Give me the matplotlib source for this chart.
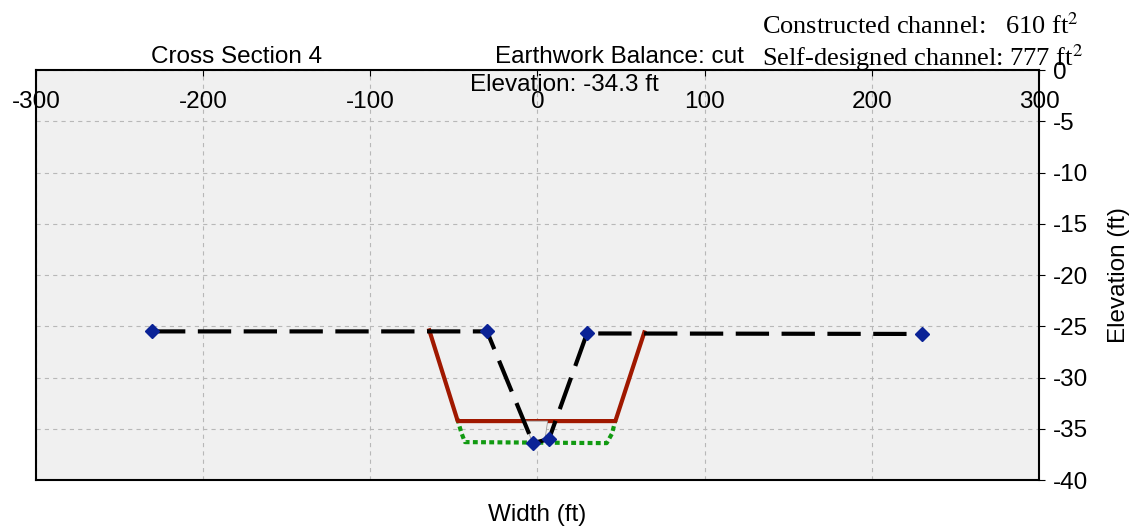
import matplotlib.pyplot as plt
from matplotlib.patches import Polygon

plt.rcParams['font.family'] = ['Liberation Sans', 'DejaVu Sans']
plt.rcParams['mathtext.fontset'] = 'stix'
plt.rcParams['lines.scale_dashes'] = False
plt.rcParams['axes.unicode_minus'] = False

# self-designed channel (black dashed with survey points)
design_x = [-230.6, -30.2, -2.7, 6.9, 29.6, 230.0]
design_y = [-25.5, -25.5, -36.4, -36.0, -25.7, -25.75]

# constructed channel (red)
constr_x = [-64.7, -47.7, 46.6, 63.9]
constr_y = [-25.4, -34.25, -34.25, -25.6]

# existing bed (green dotted)
bed_x = [-48.0, -45.5, -43.4, 41.4, 44.5, 46.6]
bed_y = [-34.0, -35.4, -36.3, -36.4, -35.5, -34.2]

# small uncovered patch near the thalweg
patch_x = [-8.3, 6.1, 4.5, -2.7]
patch_y = [-34.25, -34.25, -36.0, -36.4]

xticks = [-300, -200, -100, 0, 100, 200, 300]
yticks = list(range(0, -45, -5))

fig = plt.figure(figsize=(11.32, 5.32), dpi=100)
ax = fig.add_axes([0.0318, 0.0977, 0.886, 0.7707])
ax.set_facecolor('#f0f0f0')

ax.plot(bed_x, bed_y, color='#119a11', lw=3.0, dashes=(3.5, 2.4),
        dash_capstyle='butt', zorder=3)
ax.plot(constr_x, constr_y, color='#a01800', lw=3.0, zorder=4)
ax.add_patch(Polygon(list(zip(patch_x, patch_y)), closed=True,
                     facecolor='#f0f0f0', edgecolor='#999999', lw=0.6, zorder=4.5))
ax.plot(design_x, design_y, color='black', lw=3.0, dashes=(24, 9),
        dash_capstyle='butt', zorder=5)
ax.plot(design_x, design_y, ls='none', marker='D', ms=7.5,
        color='#0a2296', zorder=6)

ax.set_xlim(-300, 300)
ax.set_ylim(-40, 0)
ax.set_xticks(xticks)
ax.set_yticks(yticks)

ax.xaxis.tick_top()
ax.tick_params(axis='x', direction='in', length=4, pad=-31, labelsize=17.5)
ax.yaxis.tick_right()
ax.yaxis.set_label_position('right')
ax.tick_params(axis='y', direction='out', length=4, pad=6, labelsize=17.5)

ax.grid(True, color='#b8b8b8', ls=(0, (3, 3)), lw=0.8)
for s in ax.spines.values():
    s.set_linewidth(1.5)

ax.set_ylabel('Elevation (ft)', fontsize=17.5, labelpad=14)
fig.text(0.4746, 0.032, 'Width (ft)', ha='center', va='center', fontsize=17.5)

fig.text(0.2094, 0.893, 'Cross Section 4', ha='center', va='center', fontsize=17.5)
fig.text(0.657, 0.893, 'Earthwork Balance: cut', ha='right', va='center', fontsize=17.5)
ax.text(15.8, -1.45, 'Elevation: -34.3 ft', ha='center', va='center', fontsize=17.5)
fig.text(0.673, 0.951, 'Constructed channel:   610 ft$^2$', ha='left', va='center',
         fontsize=19, family='Liberation Serif')
fig.text(0.673, 0.891, 'Self-designed channel: 777 ft$^2$', ha='left', va='center',
         fontsize=19, family='Liberation Serif')

fig.savefig('out.png', dpi=100)
